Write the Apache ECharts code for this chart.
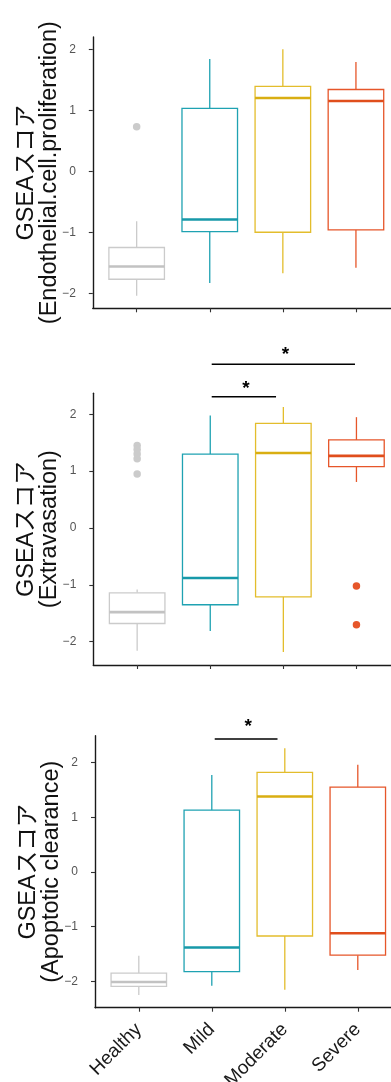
<!DOCTYPE html>
<html><head><meta charset="utf-8">
<script src="https://cdn.jsdelivr.net/npm/echarts@6/dist/echarts.min.js"></script>
<style>html,body{margin:0;padding:0;background:#fff}#c{width:391px;height:1082px}</style>
</head><body><div id="c"></div>
<script>
const categories = ['Healthy', 'Mild', 'Moderate', 'Severe'];
const categoryPositions = [1, 2, 3, 4];
const yTicks = [-2, -1, 0, 1, 2];
const titles = [
  'GSEAスコア\n(Endothelial.cell.proliferation)',
  'GSEAスコア\n(Extravasation)',
  'GSEAスコア\n(Apoptotic clearance)'
];
// box statistics per group: [lower whisker, Q1, median, Q3, upper whisker]
const endoStats = [
  [-2.04, -1.77, -1.56, -1.25, -0.82],
  [-1.83, -0.99, -0.79, 1.03, 1.84],
  [-1.67, -1.00, 1.20, 1.39, 2.00],
  [-1.58, -0.96, 1.15, 1.34, 1.79]
];
const endoOutliers = [[1, 0.73]];
const extraStats = [
  [-2.16, -1.68, -1.48, -1.14, -1.08],
  [-1.81, -1.35, -0.88, 1.30, 1.98],
  [-2.18, -1.21, 1.32, 1.84, 2.13],
  [0.81, 1.08, 1.27, 1.55, 1.95]
];
const extraOutliers = [[1, 1.45], [1, 1.38], [1, 1.30], [1, 1.22], [1, 0.95], [4, -1.02], [4, -1.70]];
const apoStats = [
  [-2.25, -2.09, -2.01, -1.85, -1.53],
  [-2.08, -1.82, -1.38, 1.13, 1.77],
  [-2.15, -1.17, 1.38, 1.82, 2.26],
  [-1.79, -1.52, -1.12, 1.55, 1.96]
];
const apoOutliers = [];
// significance brackets: [x start, x end, y], stars: y of the star
const extraBrackets = [[2.02, 3.98, 2.88], [2.02, 2.90, 2.31]];
const extraStarY = [3.14, 2.54];
const apoBrackets = [[2.04, 2.90, 2.43]];
const apoStarY = [2.74];
const yRanges = [[-2.246, 2.2], [-2.41, 2.37], [-2.48, 2.49]];

const groupColors = ['#cbcbcb', '#1fa2b2', '#e3bd2c', '#e6562a'];
const medianColors = ['#c2c2c2', '#1799a9', '#d9ae12', '#e04e1c'];
const FONT = "'Liberation Sans', Arial, 'Noto Sans CJK JP', sans-serif";

const grids = [
  {left: 92.8, top: 37, width: 307, height: 271.3, outerBoundsMode: 'none', containLabel: false},
  {left: 93.3, top: 393.3, width: 307, height: 271.7, outerBoundsMode: 'none', containLabel: false},
  {left: 95, top: 735.7, width: 306.6, height: 272, outerBoundsMode: 'none', containLabel: false}
];

function renderBox(params, api) {
  const x = api.value(0);
  const lo = api.value(1), q1 = api.value(2), med = api.value(3), q3 = api.value(4), hi = api.value(5);
  const half = 0.38;
  const c = groupColors[params.dataIndex];
  const mc = medianColors[params.dataIndex];
  const a = api.coord([x - half, q3]);
  const b = api.coord([x + half, q1]);
  const pHi = api.coord([x, hi]), pQ3 = api.coord([x, q3]), pQ1 = api.coord([x, q1]), pLo = api.coord([x, lo]);
  const mL = api.coord([x - half, med]), mR = api.coord([x + half, med]);
  return {
    type: 'group',
    children: [
      {type: 'line', shape: {x1: pQ3[0], y1: pQ3[1], x2: pHi[0], y2: pHi[1]}, style: {stroke: c, lineWidth: 1.3}},
      {type: 'line', shape: {x1: pQ1[0], y1: pQ1[1], x2: pLo[0], y2: pLo[1]}, style: {stroke: c, lineWidth: 1.3}},
      {type: 'rect', shape: {x: a[0], y: a[1], width: b[0] - a[0], height: b[1] - a[1]}, style: {fill: '#fff', stroke: c, lineWidth: 1.3}},
      {type: 'line', shape: {x1: mL[0], y1: mL[1], x2: mR[0], y2: mR[1]}, style: {stroke: mc, lineWidth: 2.6}}
    ]
  };
}

function renderStar(params, api) {
  const p = api.coord([api.value(0), api.value(1)]);
  return {
    type: 'text', x: p[0] + 2, y: p[1] + 5,
    style: {text: '*', fill: '#000', font: 'bold 19px ' + FONT, align: 'center', verticalAlign: 'middle'}
  };
}

const statsList = [endoStats, extraStats, apoStats];
const outlierList = [endoOutliers, extraOutliers, apoOutliers];
const bracketList = [[], extraBrackets, apoBrackets];
const starList = [[], extraStarY, apoStarY];

const xAxes = [], yAxes = [], series = [];
for (let g = 0; g < 3; g++) {
  xAxes.push({
    type: 'value', gridIndex: g, min: 0.4, max: 4.6,
    axisLine: {show: true, onZero: false, lineStyle: {color: '#1a1a1a', width: 1.4}},
    axisTick: {show: true, customValues: categoryPositions, length: 4, lineStyle: {color: '#333', width: 1.1}},
    axisLabel: {show: g === 2, customValues: categoryPositions, formatter: v => categories[Math.round(v) - 1],
      rotate: 45, fontSize: 19, color: '#1a1a1a', margin: 19, fontFamily: FONT},
    splitLine: {show: false}
  });
  yAxes.push({
    type: 'value', gridIndex: g, min: yRanges[g][0], max: yRanges[g][1],
    axisLine: {show: true, onZero: false, lineStyle: {color: '#1a1a1a', width: 1.4}},
    axisTick: {show: true, customValues: yTicks, length: 4, lineStyle: {color: '#333', width: 1.1}},
    axisLabel: {customValues: yTicks, formatter: v => String(v).replace('-', '\u2212'),
      color: '#555', fontSize: 12, margin: 17, fontFamily: FONT},
    splitLine: {show: false},
    name: titles[g], nameLocation: 'middle', nameRotate: 90, nameGap: 32, nameMoveOverlap: false,
    nameTextStyle: {fontSize: 23.5, color: '#111', lineHeight: 23, fontFamily: FONT}
  });
  series.push({
    type: 'custom', xAxisIndex: g, yAxisIndex: g, clip: false,
    renderItem: renderBox,
    encode: {x: 0, y: [1, 2, 3, 4, 5]},
    data: statsList[g].map((s, i) => [categoryPositions[i]].concat(s)),
    z: 2
  });
  series.push({
    type: 'scatter', xAxisIndex: g, yAxisIndex: g, symbolSize: 7.5,
    itemStyle: {color: p => groupColors[Math.round(p.value[0]) - 1], opacity: 1},
    data: outlierList[g], z: 3
  });
  if (bracketList[g].length) {
    bracketList[g].forEach((br) => {
      series.push({
        type: 'line', xAxisIndex: g, yAxisIndex: g, clip: false, symbol: 'none', silent: true,
        lineStyle: {color: '#000', width: 1.4},
        data: [[br[0], br[2]], [br[1], br[2]]], z: 4
      });
    });
    series.push({
      type: 'custom', xAxisIndex: g, yAxisIndex: g, clip: false, silent: true,
      renderItem: renderStar,
      encode: {x: 0, y: 1},
      data: bracketList[g].map((br, i) => [(br[0] + br[1]) / 2, starList[g][i]]), z: 4
    });
  }
}

const chart = echarts.init(document.getElementById('c'), null, {renderer: 'canvas'});
chart.setOption({
  animation: false,
  backgroundColor: '#fff',
  grid: grids,
  xAxis: xAxes,
  yAxis: yAxes,
  series: series
});
</script></body></html>
